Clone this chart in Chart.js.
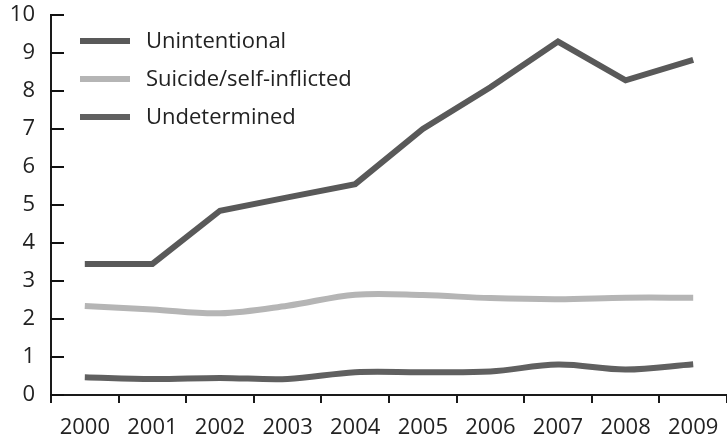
<!DOCTYPE html>
<html><head><meta charset="utf-8">
<script src="https://cdn.jsdelivr.net/npm/chart.js@4"></script>
<style>html,body{margin:0;padding:0;background:#fff;overflow:hidden}#wrap{width:727px;height:443px}</style>
</head><body><div id="wrap"><canvas id="c"></canvas></div>
<script>
const years = ['2000','2001','2002','2003','2004','2005','2006','2007','2008','2009'];
const unintentional = [3.45, 3.45, 4.85, 5.2, 5.55, 7.0, 8.1, 9.3, 8.28, 8.82];
const suicide = [2.34, 2.25, 2.15, 2.35, 2.64, 2.63, 2.55, 2.52, 2.56, 2.56];
const undetermined = [0.47, 0.42, 0.45, 0.42, 0.6, 0.6, 0.62, 0.8, 0.67, 0.81];
const yTicks = [0,1,2,3,4,5,6,7,8,9,10];
const seriesNames = ['Unintentional','Suicide/self-inflicted','Undetermined'];
const FONT = '"Open Sans", sans-serif';

const legendInside = {
  id:'legendInside',
  afterDatasetsDraw(chart){
    const ctx=chart.ctx; const ca=chart.chartArea; const left=ca.left;
    const ys = chart.scales.y;
    ctx.save();
    ctx.fillStyle='#111111';
    yTicks.forEach(v=>{ const py=ys.getPixelForValue(v); ctx.fillRect(left-1, py-1, 14, 2); });
    chart.data.datasets.forEach((ds,i)=>{
      const yy = 41 + i*38;
      ctx.strokeStyle=ds.borderColor; ctx.lineWidth=6; ctx.lineCap='butt';
      ctx.beginPath(); ctx.moveTo(left+29, yy); ctx.lineTo(left+79, yy); ctx.stroke();
      ctx.fillStyle='#222'; ctx.font='22px '+FONT; ctx.textBaseline='middle'; ctx.textAlign='left';
      ctx.fillText(ds.label, left+95, yy+1);
    });
    ctx.restore();
  }
};

new Chart(document.getElementById('c'), {
  type:'line',
  data:{
    labels: years,
    datasets:[
      {label:seriesNames[0], data:unintentional, borderColor:'#595959', borderWidth:6, tension:0, pointRadius:0, borderCapStyle:'butt', borderJoinStyle:'miter'},
      {label:seriesNames[1], data:suicide, borderColor:'#b5b5b5', borderWidth:6, tension:0.35, pointRadius:0, borderCapStyle:'butt'},
      {label:seriesNames[2], data:undetermined, borderColor:'#606060', borderWidth:6, tension:0.35, pointRadius:0, borderCapStyle:'butt'}
    ]
  },
  options:{
    responsive:true, maintainAspectRatio:false, animation:false,
    layout:{padding:{top:15,left:0,right:0,bottom:0}},
    plugins:{legend:{display:false}, tooltip:{enabled:false}},
    scales:{
      x:{
        offset:true,
        grid:{display:true, drawOnChartArea:false, drawTicks:true, tickLength:8, color:'#1a1a1a', lineWidth:2, offset:true},
        border:{display:true, color:'#1a1a1a', width:2},
        ticks:{font:{family:FONT,size:22}, color:'#222', padding:12, maxRotation:0, autoSkip:false},
        afterFit(s){ s.height = 48; s.paddingLeft = 0; s.paddingRight = 0; }
      },
      y:{
        min:0, max:10,
        afterBuildTicks(s){ s.ticks = yTicks.map(v=>({value:v})); },
        grid:{display:false, drawTicks:false},
        border:{display:true, color:'#1a1a1a', width:2},
        ticks:{font:{family:FONT,size:22}, color:'#222', padding:16},
        afterFit(s){ s.width = 51; s.paddingTop = 0; s.paddingBottom = 0; }
      }
    }
  },
  plugins:[legendInside]
});
</script></body></html>
